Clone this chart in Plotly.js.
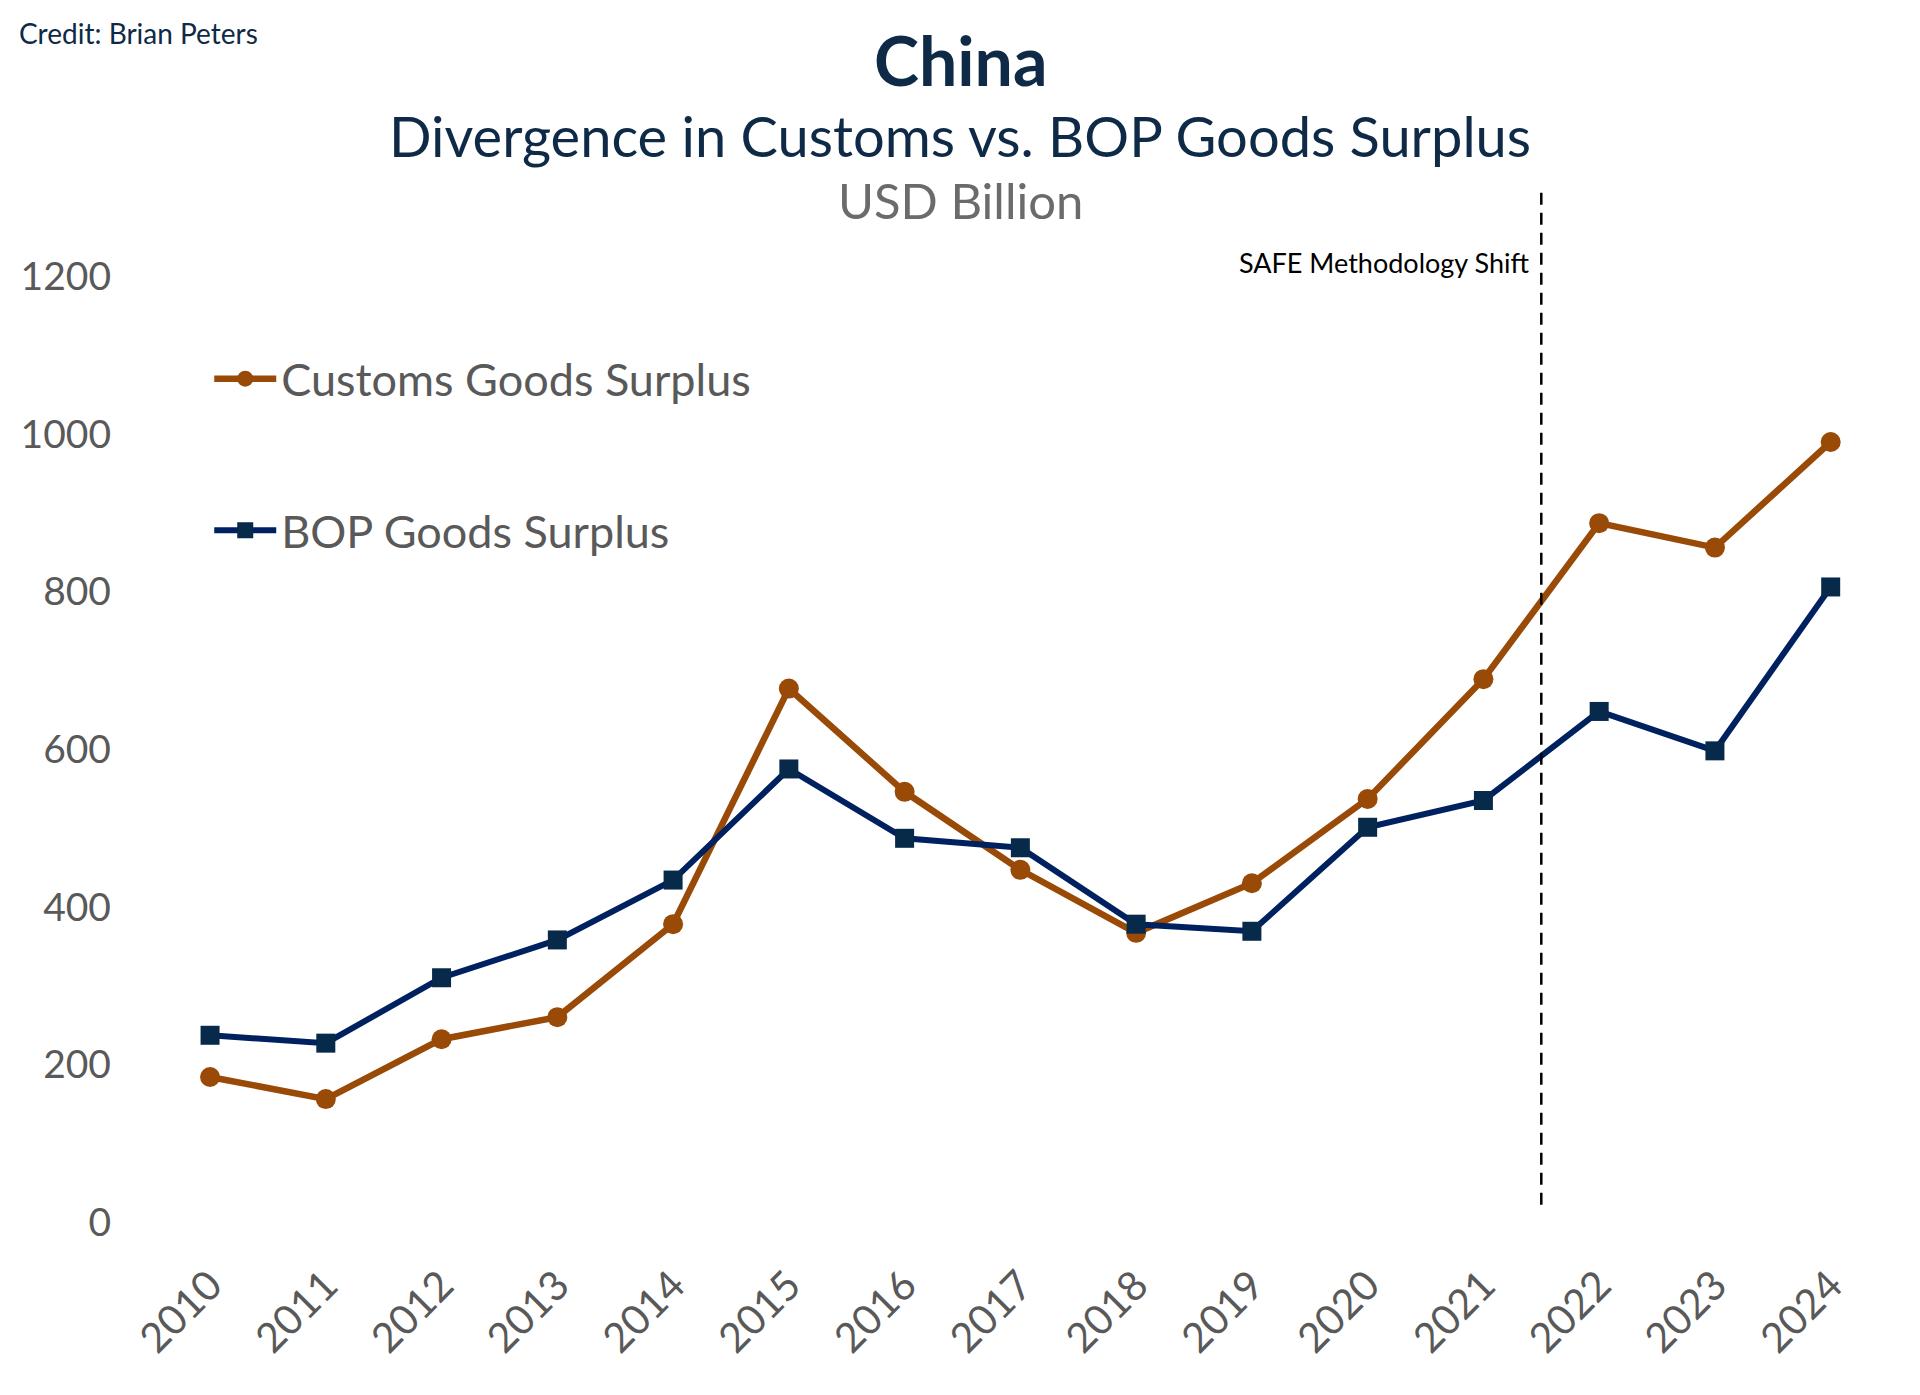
<!DOCTYPE html>
<html>
<head>
<meta charset="utf-8">
<script src="https://cdn.plot.ly/plotly-3.0.1.min.js"></script>
<style>
  html, body { margin: 0; padding: 0; background: #fff; }
  #chart { width: 1920px; height: 1395px; }
</style>
</head>
<body>
<div id="chart"></div>
<script>
// data (USD billion)
var years = [2010, 2011, 2012, 2013, 2014, 2015, 2016, 2017, 2018, 2019, 2020, 2021, 2022, 2023, 2024];
var customsSurplus = [184, 156, 232, 260, 378, 677, 546, 447, 367, 430, 537, 689, 887, 856, 990];
var bopSurplus = [237, 227, 310, 358, 434, 575, 487, 475, 378, 369, 501, 535, 648, 598, 806];
var yTicks = [0, 200, 400, 600, 800, 1000, 1200];

// where SAFE changed its method
var shiftYear = 2021.5;
var shiftSpan = [22, 1312];

var navy = '#0E2A47';
var grey = '#595959';

// plot box in pixels, used to put the title lines
var plotTop = 182, plotBottom = 1222.5;
function py(px) {
  return (plotBottom - px) / (plotBottom - plotTop);
}

var trace1 = {
  x: years,
  y: customsSurplus,
  name: 'Customs Goods Surplus',
  mode: 'lines+markers',
  type: 'scatter',
  legendgroup: 'a',
  line: {color: '#994A07', width: 6.5},
  marker: {symbol: 'circle', size: 20, color: '#994A07'},
  cliponaxis: false
};

var trace2 = {
  x: years,
  y: bopSurplus,
  name: 'BOP Goods Surplus',
  mode: 'lines+markers',
  type: 'scatter',
  legendgroup: 'b',
  line: {color: '#00215F', width: 6},
  marker: {symbol: 'square', size: 19, color: '#07294A'},
  cliponaxis: false
};

var layout = {
  width: 1920,
  height: 1395,
  margin: {l: 112, r: 40, t: plotTop, b: 1395 - plotBottom},
  paper_bgcolor: '#fff',
  plot_bgcolor: '#fff',
  font: {family: 'Lato, sans-serif', color: grey},
  showlegend: true,
  legend: {
    x: 0.055, y: py(343), xanchor: 'left', yanchor: 'top',
    bgcolor: 'rgba(0,0,0,0)',
    font: {size: 45, color: grey},
    itemwidth: 62,
    traceorder: 'grouped',
    tracegroupgap: 90
  },
  xaxis: {
    range: [2009.153, 2024.426],
    tickvals: years,
    tickangle: -45,
    tickfont: {size: 41, color: grey},
    showgrid: false, zeroline: false, showline: false, ticks: '',
    ticklabelstandoff: 30
  },
  yaxis: {
    range: [0, 1320],
    tickvals: yTicks,
    tickfont: {size: 39, color: grey},
    showgrid: false, zeroline: false, showline: false, ticks: ''
  },
  shapes: [{
    type: 'line', xref: 'x', yref: 'y',
    x0: shiftYear, x1: shiftYear, y0: shiftSpan[0], y1: shiftSpan[1],
    line: {color: '#000', width: 2.5, dash: '12px,8px'}
  }],
  annotations: [
    {text: 'Credit: Brian Peters', xref: 'paper', yref: 'paper',
     x: (17 - 112) / 1768, y: py(33), xanchor: 'left', yanchor: 'middle',
     showarrow: false, font: {size: 28, color: navy}},
    {text: '<b>China</b>', xref: 'paper', yref: 'paper',
     x: (960 - 112) / 1768, y: py(59), xanchor: 'center', yanchor: 'middle',
     showarrow: false, font: {size: 68, color: navy}},
    {text: 'Divergence in Customs vs. BOP Goods Surplus', xref: 'paper', yref: 'paper',
     x: (960 - 112) / 1768, y: py(135), xanchor: 'center', yanchor: 'middle',
     showarrow: false, font: {size: 56, color: navy}},
    {text: 'USD Billion', xref: 'paper', yref: 'paper',
     x: (960 - 112) / 1768, y: py(200), xanchor: 'center', yanchor: 'middle',
     showarrow: false, font: {size: 49, color: '#6B6B6B'}},
    {text: 'SAFE Methodology Shift', xref: 'x', yref: 'paper',
     x: shiftYear, xshift: -10, y: py(263), xanchor: 'right', yanchor: 'middle',
     showarrow: false, font: {size: 27, color: '#000'}}
  ]
};

Plotly.newPlot('chart', [trace1, trace2], layout, {displayModeBar: false, staticPlot: true});
</script>
</body>
</html>
